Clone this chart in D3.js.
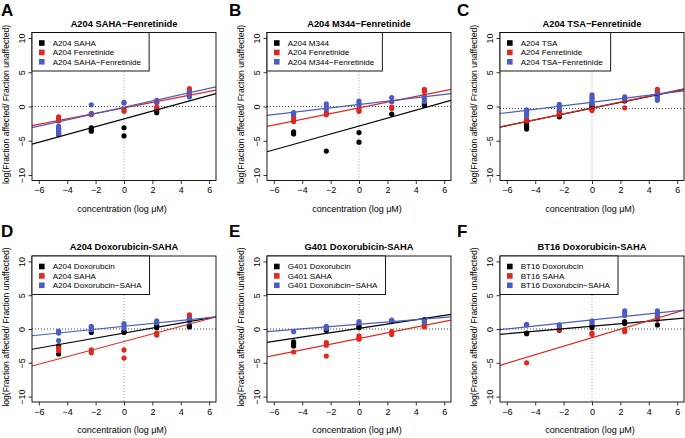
<!DOCTYPE html>
<html><head><meta charset="utf-8">
<script src="https://cdn.jsdelivr.net/npm/d3@7"></script>
<style>body{margin:0;background:#fff}svg{display:block}text{font-family:"Liberation Sans",Arial,Helvetica,sans-serif}</style>
</head><body>
<svg id="c" width="685" height="438"></svg>
<script>
// ---------- data ----------
const concX = [-4.605, -2.303, 0, 2.303, 4.605];
const xTicks = [-6, -4, -2, 0, 2, 4, 6];
const yTicks = [-10, -5, 0, 5, 10];
const panelLetters = ["A", "B", "C", "D", "E", "F"];
const panelTitles = ["A204 SAHA\u2212Fenretinide", "A204 M344\u2212Fenretinide", "A204 TSA\u2212Fenretinide",
  "A204 Doxorubicin-SAHA", "G401 Doxorubicin-SAHA", "BT16 Doxorubicin-SAHA"];
const legendLabels = [
  ["A204 SAHA", "A204 Fenretinide", "A204 SAHA\u2212Fenretinide"],
  ["A204 M344", "A204 Fenretinide", "A204 M344\u2212Fenretinide"],
  ["A204 TSA", "A204 Fenretinide", "A204 TSA\u2212Fenretinide"],
  ["A204 Doxorubcin", "A204 SAHA", "A204 Doxorubcin\u2212SAHA"],
  ["G401 Doxorubcin", "G401 SAHA", "G401 Doxorubcin\u2212SAHA"],
  ["BT16 Doxorubcin", "BT16 SAHA", "BT16 Doxorubcin\u2212SAHA"]];
const xLabel = "concentration (log \u03bcM)";
const yLabel = "log(Fraction affected/ Fraction unaffected)";
// replicate values per concentration, series order: black, red, blue
const blackPts = [
  [[-3.3,-3.8,-4.1],[-3.1,-3.4,-3.6],[-3.1,-4.3],[-0.6,-0.9],[1.7]],
  [[-3.7,-4.0],[-6.5],[-3.8,-5.2],[-1.1],[0.15,0.4]],
  [[-2.3,-2.7,-3.0,-3.3],[-0.7,-1.2,-1.5],[0.3,0,-0.2],[0.8],[1.5]],
  [[-2.5,-3.7],[-0.5],[-0.3,-0.5],[0.2,0.5],[0.3,0.5]],
  [[-1.9,-2.2,-2.5],[0.2,-0.2],[0.4,0.2],[1.2],[1.4]],
  [[-0.6,-0.7],[0,-0.2],[0.5,0.2],[1.1,0.8],[0.6]]];
const redPts = [
  [[-1.5,-1.8,-2.1],[-1.0,-1.2],[-0.4,-0.7],[-0.1,-0.3,0.6],[2.0,2.3,2.6]],
  [[-1.5,-1.9,-2.2],[-0.9,-1.2],[-0.4,-0.7],[-0.1,-0.3],[2.2,2.5]],
  [[-1.8,-2.1],[-0.9,-1.2],[-0.4,-0.6],[-0.2],[2.2,2.5]],
  [[-2.8,-3.2],[-3.1,-3.5],[-3.1,-4.3],[-0.6,-0.9],[1.5,1.9,2.1]],
  [[-3.4],[-2.0,-2.4,-4.0],[-1.0,-1.3,-1.5],[-0.4,-0.8],[0.3,0.6]],
  [[-5.0],[-0.1],[-0.6,-0.8],[-0.1,-0.4],[1.4,1.8]]];
const bluePts = [
  [[-2.9,-3.3,-3.8,-4.1],[0.25,-1.1],[0.5,0.6],[0.6,0.9],[1.4,1.8,2.1]],
  [[-0.9,-1.1],[0.4,0,-0.4],[0.8,0.5,0.2],[1.3,0.7],[1.5,1.1,0.7]],
  [[-0.5,-0.8,-1.1,-1.4],[0.3,0.1,-0.3],[1.7,1.4,1.1,0.8,0.4],[1.4,1.2,0.9],[1.9,1.6,1.2,0.9]],
  [[-0.3,-0.6,-1.7],[0.4,0.2,-0.1],[0.8,0.5,0.1],[1.2,0.9],[1.2,1.5]],
  [[-0.4],[0.4,0.1],[1.1,0.9],[1.3,1.1],[1.2,1.0]],
  [[0.6,0.7],[0.6,0.4],[1.2,0.9],[2.7,2.4,2.0],[2.7,2.3,1.9]]];
// fitted lines: intercept and slope per panel, series order black, red, blue
const lineIntercepts = [
  [-1.8, -0.2, -0.1], [-2.85, -0.2, 0.3], [-0.25, -0.2, 0.63],
  [-0.6, -1.85, 0.4], [0.1, -1.4, 0.7], [0.4, -1.3, 1.35]];
const lineSlopes = [
  [0.57, 0.40, 0.46], [0.58, 0.417, 0.245], [0.425, 0.43, 0.255],
  [0.37, 0.56, 0.216], [0.32, 0.42, 0.17], [0.185, 0.63, 0.224]];
const hLineY = [0, 0, -0.3, 0, 0, 0];

// ---------- layout ----------
const colors = ["#000000", "#e0281f", "#4b5cc4"];
const colLeft = [32, 267, 500];
const letterDx = [31, 38, 43];
const rowTop = [32.5, 256];
const rowH = [148, 146];
const rowLetterY = [16, 237];
const plotW = 184;

const svg = d3.select("#c");
const defs = svg.append("defs");

for (let p = 0; p < 6; p++) {
  const col = p % 3, row = Math.floor(p / 3);
  const L = colLeft[col], T = rowTop[row], H = rowH[row];
  const x = d3.scaleLinear().domain([-6.48, 6.48]).range([L, L + plotW]);
  const y = d3.scaleLinear().domain([-10.8, 10.8]).range([T + H, T]);
  const g = svg.append("g");

  defs.append("clipPath").attr("id", "clip" + p).append("rect")
    .attr("x", L).attr("y", T).attr("width", plotW).attr("height", H);

  // panel letter
  g.append("text").attr("x", L - letterDx[col]).attr("y", rowLetterY[row])
    .attr("font-size", 17).attr("font-weight", "bold").text(panelLetters[p]);
  // title
  g.append("text").attr("x", L + plotW / 2).attr("y", T - 6).attr("text-anchor", "middle")
    .attr("font-size", 9.3).attr("font-weight", "bold").text(panelTitles[p]);

  // reference lines
  const inner = g.append("g").attr("clip-path", `url(#clip${p})`);
  inner.append("line").attr("x1", L).attr("x2", L + plotW).attr("y1", y(hLineY[p])).attr("y2", y(hLineY[p]))
    .attr("stroke", "#333").attr("stroke-width", 0.9).attr("stroke-dasharray", "1,2");
  inner.append("line").attr("x1", x(0)).attr("x2", x(0)).attr("y1", T).attr("y2", T + H)
    .attr("stroke", "#999").attr("stroke-width", 0.9).attr("stroke-dasharray", "1,2");

  // points
  const series = [blackPts[p], redPts[p], bluePts[p]];
  series.forEach((s, si) => {
    const pts = [];
    s.forEach((vals, ci) => vals.forEach(v => pts.push([concX[ci], v])));
    inner.selectAll(null).data(pts).enter().append("circle")
      .attr("cx", d => x(d[0])).attr("cy", d => y(d[1])).attr("r", 2.6)
      .attr("fill", colors[si]);
  });
  // fitted lines
  [0, 1, 2].forEach(si => {
    const a = lineIntercepts[p][si], b = lineSlopes[p][si];
    inner.append("line")
      .attr("x1", x(-6.48)).attr("y1", y(a + b * -6.48))
      .attr("x2", x(6.48)).attr("y2", y(a + b * 6.48))
      .attr("stroke", colors[si]).attr("stroke-width", 1.2);
  });

  // axes
  const xAxis = g.append("g").attr("transform", `translate(0,${T + H})`)
    .call(d3.axisBottom(x).tickValues(xTicks).tickSize(3.5).tickPadding(3).tickFormat(d3.format("d")));
  xAxis.select(".domain").remove();
  xAxis.selectAll("text").attr("font-size", 9).attr("fill", "#000")
    .attr("font-family", "Liberation Sans, Arial, sans-serif");
  xAxis.selectAll("line").attr("stroke", "#000").attr("stroke-width", 0.8);

  const yAxis = g.append("g").attr("transform", `translate(${L},0)`)
    .call(d3.axisLeft(y).tickValues(yTicks).tickSize(3.5).tickFormat(d3.format("d")));
  yAxis.select(".domain").remove();
  yAxis.selectAll("line").attr("stroke", "#000").attr("stroke-width", 0.8);
  yAxis.selectAll("text").attr("font-size", 9).attr("fill", "#000")
    .attr("font-family", "Liberation Sans, Arial, sans-serif")
    .attr("x", null).attr("dy", null)
    .attr("text-anchor", "middle")
    .attr("transform", "translate(-9.5,0) rotate(-90)")
    .attr("dominant-baseline", "middle");

  // box
  g.append("rect").attr("x", L).attr("y", T).attr("width", plotW).attr("height", H)
    .attr("fill", "none").attr("stroke", "#000").attr("stroke-width", 0.9);

  // axis titles
  g.append("text").attr("x", L + plotW / 2 - 2).attr("y", T + H + 31).attr("text-anchor", "middle")
    .attr("font-size", 9).text(xLabel);
  g.append("text").attr("transform", `translate(${L - 23.5},${T + H / 2 - 2}) rotate(-90)`)
    .attr("text-anchor", "middle").attr("font-size", 8.6).text(yLabel);

  // legend
  const lg = g.append("g");
  const box = lg.append("rect").attr("x", L).attr("y", T).attr("height", 38.5)
    .attr("fill", "#fff").attr("stroke", "#000").attr("stroke-width", 0.9);
  let maxW = 0;
  legendLabels[p].forEach((lab, i) => {
    const cy = T + 10.5 + i * 9.4;
    lg.append("rect").attr("x", L + 7).attr("y", cy - 2.8).attr("width", 5.6).attr("height", 5.6)
      .attr("fill", colors[i]);
    const t = lg.append("text").attr("x", L + 20.7).attr("y", cy + 2.9).attr("font-size", 8.1).text(lab);
    maxW = Math.max(maxW, t.node().getComputedTextLength());
  });
  box.attr("width", 20.7 + maxW + 8);
}
</script>
</body></html>
